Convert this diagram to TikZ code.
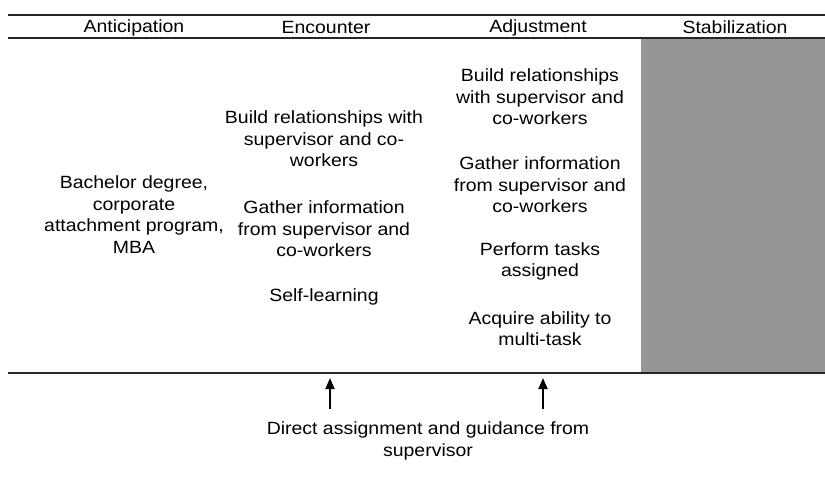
\documentclass[tikz,border=0pt]{standalone}
\usepackage{fontspec}
\setmainfont{Liberation Sans}[FakeStretch=1.1]
\usetikzlibrary{arrows.meta}
\begin{document}
\begin{tikzpicture}[x=1pt,y=-1pt,
  txt/.style={align=center,font=\fontsize{17.7}{21.6}\selectfont,inner sep=0pt},
  rule/.style={line width=1.4pt,black!85},
  arr/.style={line width=1.8pt,-{Triangle[width=9pt,length=11pt]}}]
\useasboundingbox (0,0) rectangle (825,480);
\fill[fill={rgb,255:red,150;green,150;blue,150}] (641,38) rectangle (825,373);
\draw[rule] (8,15) -- (825,15);
\draw[rule] (8,38) -- (825,38);
\draw[rule] (8,373) -- (825,373);
\node[txt] (h1) at (134,27.5) {Anticipation};
\node[txt] (h2) at (326,27.5) {Encounter};
\node[txt] (h3) at (538,27.5) {Adjustment};
\node[txt] (h4) at (735,27.5) {Stabilization};
\node[txt] (an) at (134,214.5) {Bachelor degree,\\corporate\\attachment program,\\MBA};
\node[txt] (e1) at (324,139) {Build relationships with\\supervisor and co-\\workers};
\node[txt] (e2) at (324,229) {Gather information\\from supervisor and\\co-workers};
\node[txt] (e3) at (324,297) {Self-learning};
\node[txt] (d1) at (540,97) {Build relationships\\with supervisor and\\co-workers};
\node[txt] (d2) at (540,185) {Gather information\\from supervisor and\\co-workers};
\node[txt] (d3) at (540,261.5) {Perform tasks\\assigned};
\node[txt] (d4) at (540,328.5) {Acquire ability to\\multi-task};
\node[txt] (g) at (428,441) {Direct assignment and guidance from\\supervisor};
\coordinate (s1) at (330,409);
\coordinate (t1) at (330,378);
\coordinate (s2) at (543,409);
\coordinate (t2) at (543,378);
\draw[arr] (s1) -- (t1);
\draw[arr] (s2) -- (t2);
\end{tikzpicture}
\end{document}
